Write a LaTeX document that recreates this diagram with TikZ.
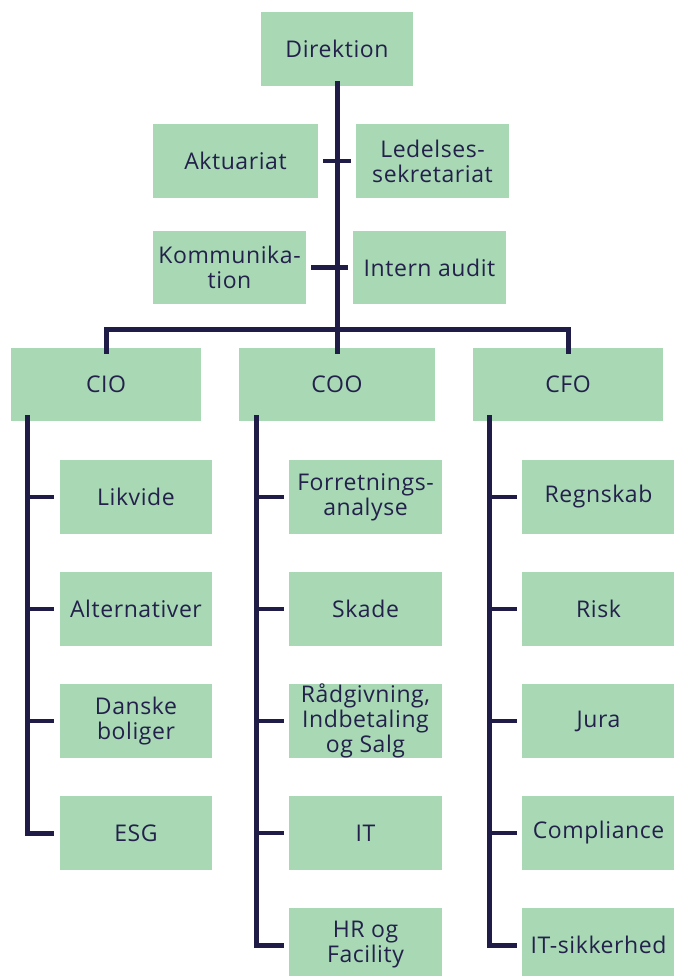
\documentclass[tikz,border=0pt]{standalone}
\usepackage{fontspec}
\setmainfont{Open Sans}[LetterSpace=2.5]
\definecolor{boxfill}{RGB}{168,216,180}
\definecolor{ink}{RGB}{35,33,75}
\definecolor{linec}{RGB}{31,29,72}
\begin{document}
\begin{tikzpicture}[x=1pt,y=-1pt,
  box/.style={fill=boxfill,draw=none,inner sep=0pt,align=center,text=ink,
    font=\fontsize{23}{25}\selectfont,minimum height=74pt},
  conn/.style={draw=linec,line width=4.5pt},
  trunk/.style={draw=linec,line width=5pt}]
\useasboundingbox (0,0) rectangle (673,976);
% top
\node[box,minimum width=152pt] (dir) at (337,49) {Direktion};
\node[box,minimum width=165pt] (akt) at (235.5,161) {Aktuariat};
\node[box,minimum width=153pt] (led) at (432.5,161) {Ledelses-\\sekretariat};
\node[box,minimum width=153pt,minimum height=73pt] (kom) at (229.5,267.5) {Kommunika-\\tion};
\node[box,minimum width=153pt,minimum height=73pt] (int) at (429.5,267.5) {Intern audit};
% level 2
\node[box,minimum width=190pt,minimum height=73pt] (cio) at (106,384.5) {CIO};
\node[box,minimum width=196pt,minimum height=73pt] (coo) at (337,384.5) {COO};
\node[box,minimum width=190pt,minimum height=73pt] (cfo) at (568,384.5) {CFO};
% CIO children
\node[box,minimum width=152pt] (likv) at (136,497) {Likvide};
\node[box,minimum width=152pt] (alt) at (136,609) {Alternativer};
\node[box,minimum width=152pt] (dan) at (136,721) {Danske\\boliger};
\node[box,minimum width=152pt] (esg) at (136,833) {ESG};
% COO children
\node[box,minimum width=153pt] (forr) at (365.5,497) {Forretnings-\\analyse};
\node[box,minimum width=153pt] (skade) at (365.5,609) {Skade};
\node[box,minimum width=153pt] (raad) at (365.5,721) {Rådgivning,\\Indbetaling\\og Salg};
\node[box,minimum width=153pt] (it) at (365.5,833) {IT};
\node[box,minimum width=153pt] (hr) at (365.5,945) {HR og\\Facility};
% CFO children
\node[box,minimum width=153pt] (regn) at (598.5,497) {Regnskab};
\node[box,minimum width=153pt] (risk) at (598.5,609) {Risk};
\node[box,minimum width=153pt] (jura) at (598.5,721) {Jura};
\node[box,minimum width=153pt] (comp) at (598.5,833) {Compliance};
\node[box,minimum width=153pt] (itsik) at (598.5,945) {IT-sikkerhed};
% main trunk
\coordinate (hub) at (337,329);
\draw[trunk] ([yshift=5pt]dir.south) -- ([yshift=-6pt]coo.north);
\draw[trunk] ([yshift=-6pt]cio.north) |- (hub) -| ([yshift=-6pt]cfo.north);
\draw[conn] ([xshift=5pt]akt.east) -- ([xshift=-5pt]led.west);
\draw[conn] ([xshift=5pt]kom.east) -- ([xshift=-5pt]int.west);
% CIO trunk
\coordinate (ciot) at ([xshift=17pt,yshift=6pt]cio.south west);
\draw[trunk] (ciot) |- ([xshift=-6pt]esg.west);
\foreach \n in {likv,alt,dan}
  \draw[conn] (\n.west -| ciot) -- ([xshift=-6pt]\n.west);
% COO trunk
\coordinate (coot) at ([xshift=18pt,yshift=6pt]coo.south west);
\draw[trunk] (coot) |- ([xshift=-5pt]hr.west);
\foreach \n in {forr,skade,raad,it}
  \draw[conn] (\n.west -| coot) -- ([xshift=-5pt]\n.west);
% CFO trunk
\coordinate (cfot) at ([xshift=17pt,yshift=6pt]cfo.south west);
\draw[trunk] (cfot) |- ([xshift=-5pt]itsik.west);
\foreach \n in {regn,risk,jura,comp}
  \draw[conn] (\n.west -| cfot) -- ([xshift=-5pt]\n.west);
\end{tikzpicture}
\end{document}
